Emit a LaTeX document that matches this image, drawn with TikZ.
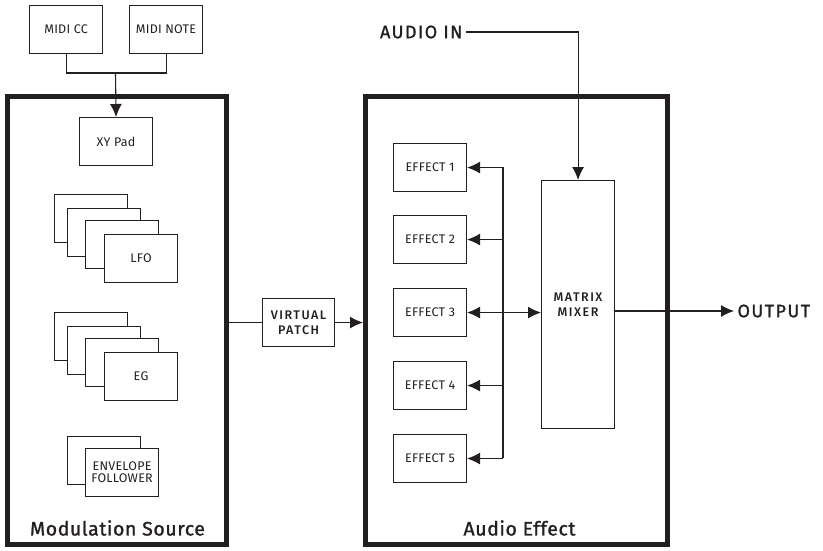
\documentclass[tikz,border=0pt]{standalone}
\usepackage{fontspec}
\setmainfont{Fira Sans}
\newfontfamily\titlefont[LetterSpace=3,FakeBold=1.2]{Fira Sans}
\newfontfamily\labelfont[LetterSpace=8,FakeBold=1.2]{Fira Sans}
\newfontfamily\patchfont[LetterSpace=12]{Fira Sans Medium}
\newfontfamily\boxfont[LetterSpace=2]{Fira Sans}
\usetikzlibrary{arrows.meta}
\definecolor{inchiostro}{HTML}{231F20}

\begin{document}
\begin{tikzpicture}[x=1pt, y=-1pt, inchiostro,
    blocco/.style={draw, line width=1.1pt, fill=white, minimum width=73pt, minimum height=48pt,
        inner sep=1pt, anchor=north west, align=center, font=\boxfont\fontsize{12.5}{14}\selectfont},
    cornice/.style={draw, line width=5pt, inner sep=0pt},
    freccia/.style={-{Latex[length=13pt,width=12pt]}, line width=1.1pt},
    titolo/.style={font=\titlefont\fontsize{19.5}{22}\selectfont},
    etichetta/.style={font=\labelfont\fontsize{18}{20}\selectfont},
    grassetto/.style={font=\patchfont\fontsize{12.5}{15}\selectfont}]
        \useasboundingbox (0,0) rectangle (823,550);
        %cornici
        \node[cornice, minimum width=218.5pt, minimum height=448pt] (modsrc) at (116.75,320.5) {};
        \node[cornice, minimum width=301.5pt, minimum height=448pt] (audiofx) at (516.25,320.5) {};
        \node[titolo] (modlabel) at (117.5,528) {Modulation Source};
        \node[titolo] (fxlabel) at (519.5,528) {Audio Effect};
        %sorgenti midi e XY pad
        \node[blocco] (midicc) at (29,5) {MIDI CC};
        \node[blocco] (midinote) at (129,5) {MIDI NOTE};
        \node[blocco] (xypad) at (79,117) {XY Pad};
        \coordinate (giunto) at (115.5,73);
        \draw[line width=1.1pt] (midicc.south) |- (giunto) -| (midinote.south);
        \draw[freccia] (giunto) -- (xypad.north);
        %pila LFO
        \node[blocco] (lfoa) at (54,194) {};
        \node[blocco] (lfob) at (67,208) {};
        \node[blocco] (lfoc) at (85,220) {};
        \node[blocco] (lfo) at (104,234) {LFO};
        %pila EG
        \node[blocco] (ega) at (54,312) {};
        \node[blocco] (egb) at (67,326) {};
        \node[blocco] (egc) at (85,338) {};
        \node[blocco] (eg) at (104,352) {EG};
        %envelope follower
        \node[blocco] (enva) at (67,436) {};
        \node[blocco] (env) at (85,448) {ENVELOPE\\[-2pt]FOLLOWER};
        %virtual patch
        \node[blocco, minimum width=72pt, grassetto] (vpatch) at (262,298) {VIRTUAL\\PATCH};
        \draw[line width=1.1pt] (modsrc.east |- vpatch) -- (vpatch);
        \draw[freccia] (vpatch) -- (audiofx.west |- vpatch);
        %effetti
        \foreach \i/\y in {1/143, 2/215, 3/288, 4/361, 5/434}
            \node[blocco] (fx\i) at (393,\y) {EFFECT \i};
        \node[blocco, minimum height=248pt, grassetto] (mixer) at (541,180) {MATRIX\\MIXER};
        \coordinate (busa) at (503,167);
        \coordinate (busb) at (503,458);
        \draw[line width=1.1pt] (busa) -- (busb);
        \foreach \i in {1,2,4,5}
            \draw[freccia] (busa |- fx\i.east) -- (fx\i.east);
        \draw[freccia, {Latex[length=13pt,width=12pt]}-{Latex[length=13pt,width=12pt]}] (fx3.east) -- (mixer.west |- fx3.east);
        %ingresso e uscita
        \node[etichetta, anchor=east] (audioin) at (466,32) {AUDIO IN};
        \draw[freccia] (audioin.east) -| (mixer.north);
        \node[etichetta, anchor=west] (output) at (734,311) {OUTPUT};
        \draw[freccia] (mixer.east |- output) -- (output.west);
    \end{tikzpicture}
\end{document}
